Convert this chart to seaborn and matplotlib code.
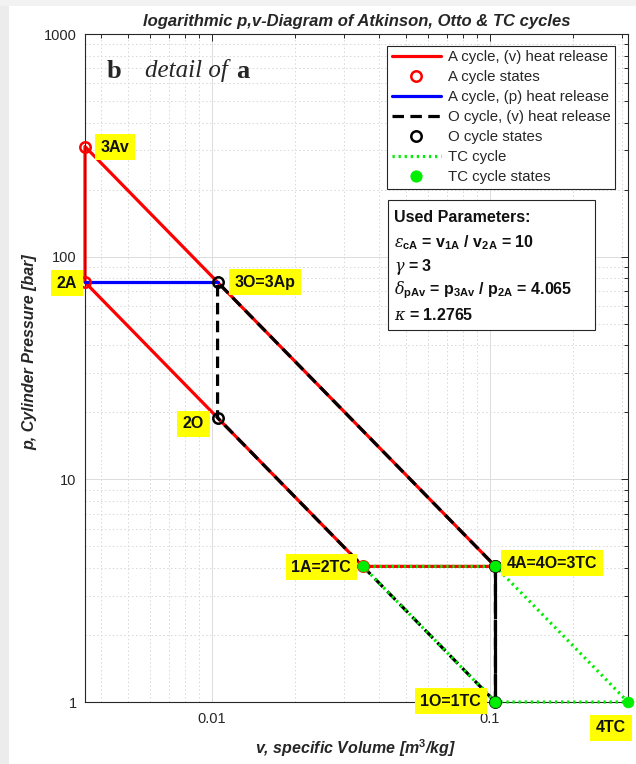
import numpy as np
import pandas as pd
import matplotlib
matplotlib.use("Agg")
import matplotlib.pyplot as plt
import seaborn as sns
from matplotlib.lines import Line2D
from matplotlib.patches import Rectangle
from matplotlib.ticker import FixedLocator, FixedFormatter, LogLocator, NullFormatter

# ---------------- data ----------------
# A cycle, isochoric (v) heat release: 1A -> 2A -> 3Av -> 4A -> 1A
a_v_vol = [0.035, 0.0035, 0.0035, 0.105, 0.035]
a_v_pres = [4.065, 76.8, 312.2, 4.065, 4.065]
# A cycle, isobaric (p) heat release: 2A -> 3Ap
a_p_vol = [0.0035, 0.0105]
a_p_pres = [76.8, 76.8]
# A cycle states: 1A, 2A, 3Av, 4A
a_state_vol = [0.035, 0.0035, 0.0035, 0.105]
a_state_pres = [4.065, 76.8, 312.2, 4.065]
# O cycle: 1O -> 2O -> 3O -> 4O -> 1O
o_vol = [0.105, 0.0105, 0.0105, 0.105, 0.105]
o_pres = [1.0, 18.9, 76.8, 4.065, 1.0]
o_state_vol = [0.105, 0.0105, 0.0105, 0.105]
o_state_pres = [1.0, 18.9, 76.8, 4.065]
# TC cycle: 1TC -> 2TC -> 3TC -> 4TC -> 1TC
tc_vol = [0.105, 0.035, 0.105, 0.315, 0.105]
tc_pres = [1.0, 4.065, 4.065, 1.0, 1.0]
tc_state_vol = [0.105, 0.035, 0.105, 0.315]
tc_state_pres = [1.0, 4.065, 4.065, 1.0]

state_labels = ["3Av", "2A", "3O=3Ap", "2O", "1A=2TC", "4A=4O=3TC", "1O=1TC", "4TC"]
x_ticks = [0.01, 0.1]
x_tick_labels = ["0.01", "0.1"]
y_ticks = [1, 10, 100, 1000]
y_tick_labels = ["1", "10", "100", "1000"]
legend_labels = ["A cycle, (v) heat release", "A cycle states", "A cycle, (p) heat release",
                 "O cycle, (v) heat release", "O cycle states", "TC cycle", "TC cycle states"]
param_lines = ["Used Parameters:",
               r"$\epsilon_{\mathrm{cA}}$ = v$_{\mathrm{1A}}$ / v$_{\mathrm{2A}}$ = 10",
               r"$\gamma$ = 3",
               r"$\delta_{\mathrm{pAv}}$ = p$_{\mathrm{3Av}}$ / p$_{\mathrm{2A}}$ = 4.065",
               r"$\kappa$ = 1.2765"]

# ---------------- style ----------------
sns.set_style("white")
plt.rcParams["font.family"] = ["Liberation Sans", "DejaVu Sans"]
plt.rcParams["mathtext.fontset"] = "custom"
plt.rcParams["mathtext.rm"] = "Liberation Sans:bold"
plt.rcParams["mathtext.bf"] = "Liberation Sans:bold"
plt.rcParams["mathtext.it"] = "DejaVu Serif:italic"
plt.rcParams["mathtext.fallback"] = "cm"

W, H = 636, 764
fig = plt.figure(figsize=(W / 100, H / 100), dpi=100)
fig.patch.set_facecolor("white")
L, R, T, B = 85, 628, 34, 702
ax = fig.add_axes([L / W, 1 - B / H, (R - L) / W, (B - T) / H])

def pa(x, y):
    return ((x - L) / (R - L), (B - y) / (B - T))

lw = 2.3
# lines
sns.lineplot(x=a_v_vol, y=a_v_pres, sort=False, estimator=None, color="#ff0000", lw=lw, ax=ax, zorder=2)
sns.lineplot(x=a_p_vol, y=a_p_pres, sort=False, estimator=None, color="#0000ff", lw=lw, ax=ax, zorder=2)
sns.lineplot(x=o_vol[3:5], y=o_pres[3:5], sort=False, estimator=None, color="black", lw=lw, ax=ax, zorder=3)
ax.lines[-1].set_dashes([8.0, 0.5])
sns.lineplot(x=o_vol, y=o_pres, sort=False, estimator=None, color="black", lw=lw, ax=ax, zorder=3)
ax.lines[-1].set_dashes([3.6, 2.0])
sns.lineplot(x=tc_vol, y=tc_pres, sort=False, estimator=None, color="#00ee00", lw=lw, ax=ax, zorder=4)
ax.lines[-1].set_dashes([0.7, 1.2])

# state markers
sns.lineplot(x=a_state_vol, y=a_state_pres, sort=False, estimator=None, linestyle="", marker="o",
             markersize=7.5, markerfacecolor="none", markeredgecolor="#ff0000", markeredgewidth=1.8,
             ax=ax, zorder=5)
sns.lineplot(x=o_state_vol, y=o_state_pres, sort=False, estimator=None, linestyle="", marker="o",
             markersize=7.5, markerfacecolor="none", markeredgecolor="black", markeredgewidth=1.8,
             ax=ax, zorder=5)
sns.lineplot(x=tc_state_vol, y=tc_state_pres, sort=False, estimator=None, linestyle="", marker="o",
             markersize=7.8, markerfacecolor="#00ee00", markeredgecolor="#00ee00", markeredgewidth=0.5,
             ax=ax, zorder=6)
for ln in ax.lines:
    ln.set_clip_on(False)

# axes
ax.set_xscale("log")
ax.set_yscale("log")
ax.set_xlim(0.0035, 0.315)
ax.set_ylim(1, 1000)
ax.xaxis.set_major_locator(FixedLocator(x_ticks))
ax.xaxis.set_major_formatter(FixedFormatter(x_tick_labels))
ax.yaxis.set_major_locator(FixedLocator(y_ticks))
ax.yaxis.set_major_formatter(FixedFormatter(y_tick_labels))
ax.xaxis.set_minor_locator(LogLocator(base=10, subs=np.arange(2, 10), numticks=20))
ax.yaxis.set_minor_locator(LogLocator(base=10, subs=np.arange(2, 10), numticks=20))
ax.xaxis.set_minor_formatter(NullFormatter())
ax.yaxis.set_minor_formatter(NullFormatter())
ax.tick_params(which="both", direction="in", top=True, right=True, colors="#262626",
               labelsize=10.5, width=0.7)
ax.tick_params(which="major", length=5)
ax.tick_params(which="minor", length=3)
ax.tick_params(axis="y", pad=6)
ax.tick_params(axis="x", pad=7)
for sp in ax.spines.values():
    sp.set_color("#262626")
    sp.set_linewidth(0.8)
ax.grid(which="major", color="#dcdcdc", lw=0.7, ls="-")
ax.grid(which="minor", color="#d8d8d8", lw=0.7, ls=(0, (1.5, 2.5)))
ax.set_axisbelow(True)

ax.set_title("logarithmic p,v-Diagram of Atkinson, Otto & TC cycles", fontsize=12,
             fontweight="bold", fontstyle="italic", pad=6)
ax.set_xlabel("v, specific Volume [m$^{3}$/kg]", fontsize=11.5, fontweight="bold",
              fontstyle="italic", color="#262626")
ax.set_ylabel("p, Cylinder Pressure [bar]", fontsize=11.5, fontweight="bold",
              fontstyle="italic", color="#262626")
ax.xaxis.set_label_coords(*pa(356, 737))
ax.yaxis.set_label_coords(*pa(37, 352))

# state labels
lab_pos = [(101, 147, "left"), (77, 283, "right"), (235, 282, "left"), (204, 424, "right"),
           (351, 567, "right"), (507, 563, "left"), (481, 701, "right"), (626, 728, "right")]
for txt, (x, y, ha) in zip(state_labels, lab_pos):
    ax.text(*pa(x, y), txt, transform=ax.transAxes, ha=ha, va="center", fontsize=11.5,
            fontweight="bold", color="#111111", zorder=10, clip_on=False,
            bbox=dict(boxstyle="square,pad=0.35", fc="#ffff00", ec="none"))

# "b  detail of  a"
ax.text(*pa(107, 71), "b", transform=ax.transAxes, ha="left", va="center", fontsize=19,
        fontweight="bold", family="Liberation Serif", zorder=10)
ax.text(*pa(145, 71), "detail of", transform=ax.transAxes, ha="left", va="center", fontsize=18,
        fontstyle="italic", family="Liberation Serif", zorder=10)
ax.text(*pa(236, 71), "a", transform=ax.transAxes, ha="left", va="center", fontsize=19,
        fontweight="bold", family="Liberation Serif", zorder=10)

# legend
handles = [
    Line2D([], [], color="#ff0000", lw=lw),
    Line2D([], [], ls="", marker="o", ms=7.5, mfc="none", mec="#ff0000", mew=1.8),
    Line2D([], [], color="#0000ff", lw=lw),
    Line2D([], [], color="black", lw=lw, dashes=[3.6, 2.0]),
    Line2D([], [], ls="", marker="o", ms=7.5, mfc="none", mec="black", mew=1.8),
    Line2D([], [], color="#00ee00", lw=lw, dashes=[0.7, 1.2]),
    Line2D([], [], ls="", marker="o", ms=7.8, mfc="#00ee00", mec="#00ee00"),
]
leg = ax.legend(handles, legend_labels, loc="upper right", bbox_to_anchor=pa(615, 46),
                bbox_transform=ax.transAxes, borderaxespad=0, fontsize=10.8, labelspacing=0.4,
                handlelength=3.3, handletextpad=0.45, borderpad=0.3, fancybox=False,
                framealpha=1, edgecolor="#262626")
leg.get_frame().set_linewidth(0.8)
leg.set_zorder(20)

# parameter box
x0, y0 = pa(388, 330)
x1, y1 = pa(595, 200)
ax.add_patch(Rectangle((x0, y0), x1 - x0, y1 - y0, transform=ax.transAxes, fc="white",
                       ec="#262626", lw=0.8, zorder=19, clip_on=False))
for txt, y in zip(param_lines, [218, 243, 267, 290, 315]):
    ax.text(*pa(394, y), txt, transform=ax.transAxes, ha="left", va="center", fontsize=11.5,
            fontweight="bold", color="#111111", zorder=21)

# light frame shadow on the left/top edge
fig.patches.append(Rectangle((0, 0), 9 / W, 1, transform=fig.transFigure, fc="#ececec",
                             ec="none", zorder=-1))
fig.patches.append(Rectangle((0, 1 - 6 / H), 1, 6 / H, transform=fig.transFigure, fc="#f2f2f2",
                             ec="none", zorder=-1))

fig.savefig("out.png", dpi=100)
